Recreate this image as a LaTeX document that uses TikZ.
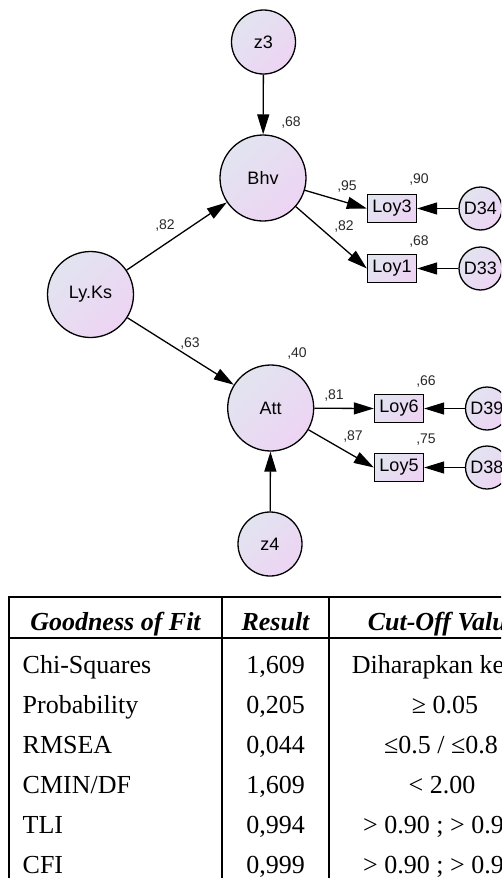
\documentclass[tikz,border=0pt]{standalone}
\usepackage{fontspec}
\setmainfont{Liberation Serif}
\setsansfont{Liberation Sans}
\usetikzlibrary{arrows.meta}

\definecolor{fillA}{RGB}{226,228,240}
\definecolor{fillB}{RGB}{237,212,243}
\definecolor{labelgray}{RGB}{40,40,40}

\begin{document}
\begin{tikzpicture}[x=1pt,y=-1pt,
  latent/.style={circle, draw, line width=1.3pt, inner sep=0pt,
    top color=fillA, bottom color=fillB, shading angle=45,
    font=\sffamily\fontsize{18}{18}\selectfont},
  bigvar/.style={latent, minimum size=86pt},
  distvar/.style={latent, minimum size=64pt},
  errvar/.style={latent, minimum size=43pt},
  observed/.style={rectangle, draw, line width=1.3pt, inner sep=0pt,
    minimum width=49pt, minimum height=28pt,
    top color=fillA, bottom color=fillB, shading angle=45,
    font=\sffamily\fontsize{18}{18}\selectfont},
  path/.style={line width=1.3pt, -{Triangle[length=20pt,width=12pt]}},
  coef/.style={font=\sffamily\fontsize{14}{14}\selectfont, text=labelgray, inner sep=0pt},
  rule/.style={line width=2pt},
  headcell/.style={font=\fontsize{26}{26}\selectfont\bfseries\itshape, inner sep=0pt, anchor=base},
  bodycell/.style={font=\fontsize{26}{26}\selectfont, inner sep=0pt, anchor=base},
]
\path[use as bounding box, clip] (0,0) rectangle (501,878);

% structural model
\node[distvar] (z3) at (263.5,42) {z3};
\node[bigvar] (Bhv) at (263,178) {Bhv};
\node[bigvar] (LyKs) at (90.5,294.5) {Ly.Ks};
\node[bigvar] (Att) at (270.7,408) {Att};
\node[distvar] (z4) at (270,544) {z4};

% indicators and their error terms
\node[observed] (Loy3) at (392,208.5) {Loy3};
\node[observed] (Loy1) at (392,268.5) {Loy1};
\node[observed] (Loy6) at (399,408.5) {Loy6};
\node[observed] (Loy5) at (399,467.5) {Loy5};
\node[errvar] (D34) at (480.5,208.5) {D34};
\node[errvar] (D33) at (480.5,268.5) {D33};
\node[errvar] (D39) at (487,408.5) {D39};
\node[errvar] (D38) at (487,467.5) {D38};

% paths
\draw[path] (z3) -- (Bhv);
\draw[path] (z4) -- (Att);
\draw[path] (LyKs) -- (Bhv);
\draw[path] (LyKs) -- (Att);
\draw[path] (Bhv) -- (Loy3.west);
\draw[path] (Bhv) -- (Loy1.west);
\draw[path] (Att) -- (Loy6.west);
\draw[path] (Att) -- (Loy5.west);
\draw[path] (D34) -- (Loy3.east);
\draw[path] (D33) -- (Loy1.east);
\draw[path] (D39) -- (Loy6.east);
\draw[path] (D38) -- (Loy5.east);

% standardized estimates
\node[coef] (rBhv) at (291,123) {,68};
\node[coef] (rAtt) at (297,354) {,40};
\node[coef] (pBhv) at (165,226) {,82};
\node[coef] (pAtt) at (190,344) {,63};
\node[coef] (l3) at (347,187) {,95};
\node[coef] (l1) at (344,227) {,82};
\node[coef] (l6) at (334,396) {,81};
\node[coef] (l5) at (353,437) {,87};
\node[coef] (r3) at (419,180) {,90};
\node[coef] (r1) at (419,241.5) {,68};
\node[coef] (r6) at (426,381.5) {,66};
\node[coef] (r5) at (426,440) {,75};

% fit table
\draw[rule] (9,597) -- (560,597);
\draw[rule] (9,638) -- (560,638);
\draw[rule] (9,596) -- (9,900);
\draw[rule] (222,596) -- (222,900);
\draw[rule] (329,596) -- (329,900);

\node[headcell] (h1) at (115.5,630) {Goodness of Fit};
\node[headcell] (h2) at (275.5,630) {Result};
\node[headcell] (h3) at (443,630) {Cut-Off Value};

\node[bodycell, anchor=base west] (a1) at (22.5,673) {Chi-Squares};
\node[bodycell, anchor=base west] (a2) at (22.5,713) {Probability};
\node[bodycell, anchor=base west] (a3) at (22.5,753) {RMSEA};
\node[bodycell, anchor=base west] (a4) at (22.5,793) {CMIN/DF};
\node[bodycell, anchor=base west] (a5) at (22.5,833) {TLI};
\node[bodycell, anchor=base west] (a6) at (22.5,873) {CFI};

\node[bodycell] (b1) at (275.5,673) {1,609};
\node[bodycell] (b2) at (275.5,713) {0,205};
\node[bodycell] (b3) at (275.5,753) {0,044};
\node[bodycell] (b4) at (275.5,793) {1,609};
\node[bodycell] (b5) at (275.5,833) {0,994};
\node[bodycell] (b6) at (275.5,873) {0,999};

\node[bodycell] (c1) at (441,673) {Diharapkan kecil};
\node[bodycell] (c2) at (445,713) {≥ 0.05};
\node[bodycell] (c3) at (441,753) {≤0.5 / ≤0.8};
\node[bodycell] (c4) at (442,793) {< 2.00};
\node[bodycell] (c5) at (440,833) {> 0.90 ; > 0.95};
\node[bodycell] (c6) at (440,873) {> 0.90 ; > 0.95};
\end{tikzpicture}
\end{document}
